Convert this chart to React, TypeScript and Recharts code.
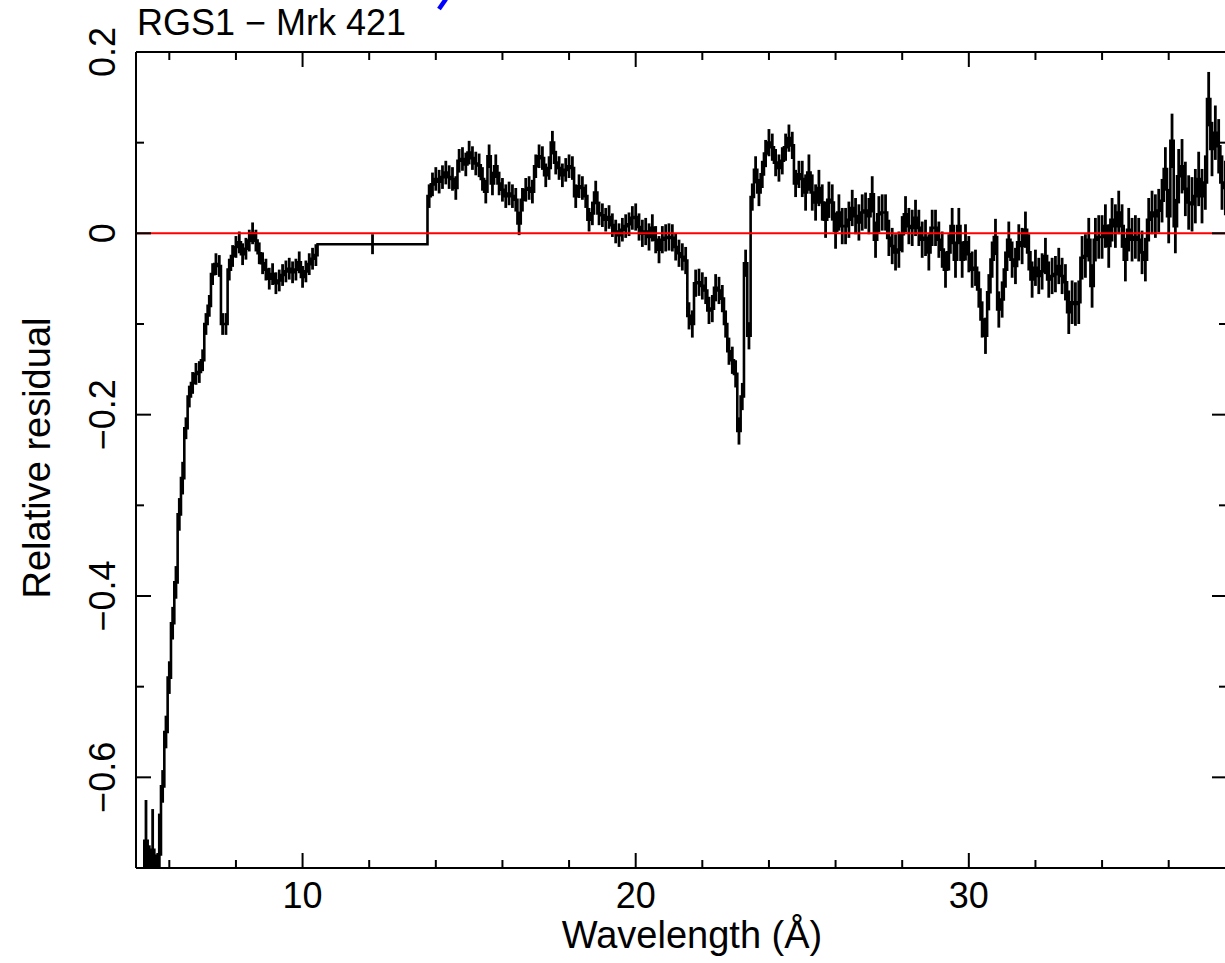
import React from 'react';
import {
  ComposedChart,
  Line,
  ErrorBar,
  XAxis,
  YAxis,
  ReferenceLine,
  Label,
} from 'recharts';

// Wavelength grid (Å): regular 0.1 Å bins, one broad bin across the chip gap
const BIN_WIDTH = 0.1;
const riseStart = 5.05;
const broadBin = { start: 10.45, end: 13.75, value: -0.012 };
const midStart = 13.75;
const tailStart = 23.75;
const tailEnd = 37.75;

// Relative residuals per bin
const riseResidual = [
  -0.75, -0.75, -0.67, -0.72, -0.68, -0.73, -0.685, -0.61, -0.55, -0.49,
  -0.43, -0.385, -0.31, -0.27, -0.215, -0.18, -0.165, -0.155, -0.153, -0.14,
  -0.1, -0.08, -0.045, -0.034, -0.036, -0.1, -0.1, -0.04, -0.025, -0.015,
  -0.01, -0.023, -0.017, -0.008, 0.0, -0.008, -0.022, -0.033, -0.04, -0.05,
  -0.045, -0.055, -0.052, -0.046, -0.042, -0.039, -0.043, -0.04, -0.032, -0.048,
  -0.042, -0.034, -0.028, -0.024,
];

const midResidual = [
  0.041, 0.054, 0.06, 0.057, 0.062, 0.067, 0.062, 0.06, 0.05, 0.08,
  0.082, 0.076, 0.089, 0.083, 0.077, 0.075, 0.06, 0.046, 0.085, 0.055,
  0.074, 0.055, 0.048, 0.041, 0.044, 0.041, 0.037, 0.011, 0.037, 0.048,
  0.05, 0.046, 0.074, 0.085, 0.083, 0.064, 0.072, 0.1, 0.078, 0.072,
  0.064, 0.07, 0.074, 0.072, 0.041, 0.052, 0.05, 0.041, 0.015, 0.022,
  0.045, 0.022, 0.02, 0.015, 0.018, 0.009, 0.002, -0.002, 0.004, 0.008,
  0.01, 0.017, 0.018, 0.007, 0.0, 0.002, -0.004, 0.006, -0.007, -0.018,
  -0.007, -0.005, -0.004, -0.005, -0.015, -0.022, -0.026, -0.03, -0.091, -0.1,
  -0.055, -0.054, -0.058, -0.063, -0.085, -0.083, -0.06, -0.063, -0.072, -0.1,
  -0.13, -0.14, -0.155, -0.218, -0.18, -0.033, -0.113, 0.04, 0.07, 0.045,
];

const tailResidual = [
  0.065, 0.088, 0.1, 0.095, 0.078, 0.072, 0.08, 0.095, 0.105, 0.097,
  0.055, 0.065,
  0.06, 0.045, 0.067, 0.045, 0.034, 0.05, 0.034, 0.015, 0.037, 0.034,
  0.003, 0.023, 0.008, 0.008, 0.015, 0.028, 0.019, 0.012, 0.023, 0.025,
  0.019, 0.043, -0.007, 0.021, 0.023, 0.023, -0.005, -0.014, -0.021, -0.018,
  -0.001, 0.021, 0.008, 0.006, 0.017, 0.006, -0.007, -0.005, -0.021, 0.006,
  0.006, -0.007, -0.018, -0.04, -0.021, 0.008, -0.029, 0.008, -0.029, -0.01,
  -0.023, -0.04, -0.038, -0.062, -0.095, -0.113, -0.065, -0.029, -0.004, -0.084,
  -0.073, -0.04, -0.007, -0.029, -0.036, -0.01, -0.014, 0.004, -0.021, -0.051,
  -0.038, -0.047, -0.042, -0.025, -0.051, -0.047, -0.045, -0.036, -0.047, -0.054,
  -0.087, -0.076, -0.078, -0.076, -0.027, -0.025, -0.007, -0.058, -0.007, -0.004,
  -0.004, 0.008, -0.014, 0.015, 0.008, 0.023, 0.008, -0.029, 0.004, -0.007,
  -0.004, -0.007, -0.021, -0.029, 0.015, 0.023, 0.019, 0.025, 0.036, 0.071,
  0.019, 0.102, 0.008, 0.063, 0.074, 0.049, 0.034, 0.032, 0.041, 0.06,
  0.041, 0.056, 0.148, 0.093, 0.111, 0.096, 0.056, 0.05,
];

// 1-sigma error level by wavelength band (band starts, Å)
const errorFrom = [5.0, 5.75, 6.5, 10.45, 13.75, 20, 25, 33, 36];
const errorSize = [0.045, 0.018, 0.012, 0.011, 0.013, 0.015, 0.02, 0.024, 0.03];

// Axis ticks
const xTicks = [6, 8, 10, 12, 14, 16, 18, 20, 22, 24, 26, 28, 30, 32, 34, 36];
const yTicks = [-0.6, -0.5, -0.4, -0.3, -0.2, -0.1, 0, 0.1, 0.2];
const X_DOMAIN: [number, number] = [5, tailEnd];
const Y_DOMAIN: [number, number] = [-0.7, 0.2];

// Layout
const CHART_W = 1260;
const CHART_H = 963;
const PLOT_LEFT = 136;
const PLOT_RIGHT = 1227;
const PLOT_TOP = 52;
const PLOT_BOTTOM = 868;
const Y_AXIS_W = 60;
const X_AXIS_H = 60;
const FONT = '"Liberation Sans", Arial, Helvetica, sans-serif';
const TICK_FONT = 36;
const TITLE_FONT = 38;

type Bin = { start: number; end: number; value: number };

const bins: Bin[] = [];
const addRegular = (start: number, values: number[]) => {
  values.forEach((v, i) => {
    const s = +(start + i * BIN_WIDTH).toFixed(4);
    bins.push({ start: s, end: +(s + BIN_WIDTH).toFixed(4), value: v });
  });
};
addRegular(riseStart, riseResidual);
bins.push({ ...broadBin });
addRegular(midStart, midResidual);
addRegular(tailStart, tailResidual);

const errorAt = (w: number) => {
  let e = errorSize[0];
  errorFrom.forEach((f, i) => {
    if (w >= f) e = errorSize[i];
  });
  return e;
};

// Histogram outline: left edge of each bin, plus the closing edge
const stepData = bins.map((b) => ({ x: b.start, y: b.value }));
stepData.push({ x: bins[bins.length - 1].end, y: bins[bins.length - 1].value });

// Error bars at bin centres. ErrorBar ignores the plot clip, so each bar
// is trimmed at the axis floor (bars lying wholly below it are dropped).
const floor = Y_DOMAIN[0];
const barData = bins
  .map((b) => {
    const c = (b.start + b.end) / 2;
    const e = errorAt(c);
    return { x: c, y: b.value, err: [Math.min(e, b.value - floor), e] };
  })
  .filter((d) => d.y + d.err[1] > floor);

const isMajorX = (v: number) => v % 10 === 0;
const isMajorY = (v: number) => Math.abs(Math.round(v * 10)) % 2 === 0;

const XTick = (props: any) => {
  const { x, y, payload } = props;
  const v = payload.value;
  const len = isMajorX(v) ? 15 : 8;
  return (
    <g>
      <line x1={x} x2={x} y1={y} y2={y - len} stroke="#000" strokeWidth={2} />
      <line x1={x} x2={x} y1={PLOT_TOP} y2={PLOT_TOP + len} stroke="#000" strokeWidth={2} />
      {isMajorX(v) && (
        <text x={x} y={y + 40} textAnchor="middle" fontSize={TICK_FONT} fontFamily={FONT} fill="#000">
          {v}
        </text>
      )}
    </g>
  );
};

const fmtY = (v: number) => {
  const r = Math.round(v * 10) / 10;
  if (r === 0) return '0';
  return r < 0 ? `\u2212${Math.abs(r)}` : `${r}`;
};

const YTick = (props: any) => {
  const { x, y, payload } = props;
  const v = payload.value;
  const major = isMajorY(v);
  const len = major ? 15 : 8;
  const bx = x - 21;
  return (
    <g>
      <line x1={x} x2={x + len} y1={y} y2={y} stroke="#000" strokeWidth={2} />
      <line x1={PLOT_RIGHT} x2={PLOT_RIGHT - len} y1={y} y2={y} stroke="#000" strokeWidth={2} />
      {major && (
        <text
          x={bx}
          y={y}
          transform={`rotate(-90, ${bx}, ${y})`}
          textAnchor="middle"
          fontSize={TICK_FONT}
          fontFamily={FONT}
          fill="#000"
        >
          {fmtY(v)}
        </text>
      )}
    </g>
  );
};

const renderXTitle = () => (
  <text x={692} y={948} textAnchor="middle" fontSize={TITLE_FONT} fontFamily={FONT} fill="#000">
    Wavelength (Å)
  </text>
);

const renderYTitle = () => (
  <g>
    <text
      x={50}
      y={458}
      transform="rotate(-90, 50, 458)"
      textAnchor="middle"
      fontSize={TITLE_FONT}
      fontFamily={FONT}
      fill="#000"
    >
      Relative residual
    </text>
    <text x={137} y={35} fontSize={TICK_FONT} fontFamily={FONT} fill="#000">
      RGS1 {'\u2212'} Mrk 421
    </text>
    <line x1={446} y1={-1} x2={439} y2={9} stroke="#0000ff" strokeWidth={4.5} />
  </g>
);

export default function App() {
  return (
    <div
      style={{
        position: 'absolute',
        left: 0,
        top: 0,
        width: 1225,
        height: 963,
        overflow: 'hidden',
        background: '#fff',
      }}
    >
      <ComposedChart
        width={CHART_W}
        height={CHART_H}
        margin={{
          top: PLOT_TOP,
          left: PLOT_LEFT - Y_AXIS_W,
          right: CHART_W - PLOT_RIGHT,
          bottom: CHART_H - PLOT_BOTTOM - X_AXIS_H,
        }}
      >
        <XAxis
          type="number"
          dataKey="x"
          domain={X_DOMAIN}
          allowDataOverflow
          ticks={xTicks}
          interval={0}
          height={X_AXIS_H}
          tickSize={0}
          tickMargin={0}
          tickLine={false}
          axisLine={{ stroke: '#000', strokeWidth: 2 }}
          tick={<XTick />}
        >
          <Label content={renderXTitle} />
        </XAxis>
        <YAxis
          type="number"
          dataKey="y"
          domain={Y_DOMAIN}
          allowDataOverflow
          ticks={yTicks}
          interval={0}
          width={Y_AXIS_W}
          tickSize={0}
          tickMargin={0}
          tickLine={false}
          axisLine={{ stroke: '#000', strokeWidth: 2 }}
          tick={<YTick />}
        >
          <Label content={renderYTitle} />
        </YAxis>
        <ReferenceLine y={0.2} stroke="#000" strokeWidth={2} />
        <Line
          data={stepData}
          dataKey="y"
          type="stepAfter"
          stroke="#000"
          strokeWidth={2.6}
          dot={false}
          activeDot={false}
          isAnimationActive={false}
        />
        <Line
          data={barData}
          dataKey="y"
          stroke="none"
          dot={false}
          activeDot={false}
          isAnimationActive={false}
        >
          <ErrorBar dataKey="err" direction="y" width={0} stroke="#000" strokeWidth={2.8} />
        </Line>
        <ReferenceLine y={0} stroke="#ff0000" strokeWidth={2} />
      </ComposedChart>
    </div>
  );
}
